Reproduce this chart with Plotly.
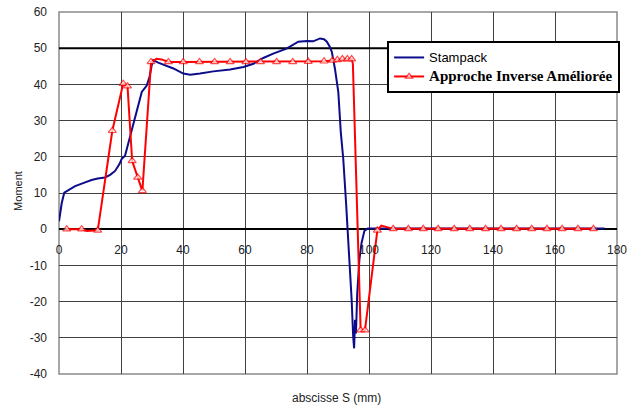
import plotly.graph_objects as go

# ---- data ----
stampack_x = [0, 0.5, 0.9, 1.7, 3.5, 5.2, 8, 10.5, 12.5, 14.8, 16.5, 18.1, 19.5, 20.2, 21.3, 22.3,
              23.4, 24.5, 25.6, 26.7, 28.3, 29.2, 29.9, 30.4, 32, 34.2, 36.9, 40.1, 42.3, 45.5,
              49.8, 55.2, 59.5, 62.7, 65.9, 69.1, 73.4, 77.2, 80, 82, 84.2, 85.5, 86.4, 87.3,
              88, 89, 90.1, 90.9, 91.7, 92.6, 93.3, 93.9, 94.4, 94.9, 95.2, 95.5, 95.8, 96.2,
              96.9, 97.6, 98.5, 99.6, 110, 130, 150, 170, 176]
stampack_y = [2.2, 5, 7.3, 10.1, 11, 11.9, 12.8, 13.6, 14, 14.3, 15, 16.1, 18, 19.4, 20.3, 23.5,
              27.7, 31, 34.2, 37.9, 39.7, 42, 45.3, 46.7, 46, 45.3, 44.4, 43, 42.7, 43,
              43.6, 44.1, 44.8, 45.7, 47.3, 48.5, 49.9, 51.8, 52, 51.9, 52.7, 52.5, 51.8, 50.5,
              49, 44.4, 37.9, 26.8, 19.4, 7.3, -1.9, -11.2, -19.5, -29.7, -32.9, -25, -28.8, -17.7,
              -8.4, -3.8, -0.5, 0.2, 0.2, 0.2, 0.2, 0.2, 0.2]

inverse_x = [2.5, 7.3, 9, 12.5, 17.2, 20.7, 22.1, 23.6, 25.4, 26.9, 29.7, 31.5, 33.1, 35.3,
             40.1, 45.3, 50.2, 55.2, 60.3, 65.0, 70.2, 75.4, 80.4, 85.5, 88.2, 89.8, 91.4,
             93.0, 94.4, 94.8, 97.3, 98.7, 102.7, 104, 107.8, 112.7, 117.5, 122.3, 127.5,
             132.5, 137.6, 142.6, 147.6, 152.5, 157.4, 162.3, 167.4, 172.4]
inverse_y = [0, 0, -0.5, -0.3, 27.2, 40.2, 39.5, 18.9, 14.3, 10.6, 46.2, 47.1, 46.9, 46.2,
             46.2, 46.2, 46.2, 46.2, 46.2, 46.2, 46.2, 46.2, 46.3, 46.4, 46.6, 46.8, 47.0,
             47.0, 47.0, 45.7, -27.9, -27.9, -0.3, 1.0, 0.1, 0.1, 0.1, 0.1, 0.1,
             0.1, 0.1, 0.1, 0.1, 0.1, 0.1, 0.1, 0.1, 0.1]
# which points of the improved inverse approach are sample points (drawn with a triangle)
inverse_sampled = [1, 1, 0, 1, 1, 1, 1, 1, 1, 1, 1, 0, 0, 1,
                   1, 1, 1, 1, 1, 1, 1, 1, 1, 1, 1, 1, 1,
                   1, 1, 0, 1, 1, 1, 0, 1, 1, 1, 1, 1,
                   1, 1, 1, 1, 1, 1, 1, 1, 1]

x_ticks = [0, 20, 40, 60, 80, 100, 120, 140, 160, 180]
y_ticks = [-40, -30, -20, -10, 0, 10, 20, 30, 40, 50, 60]

SANS = "Liberation Sans, Arial, sans-serif"

fig = go.Figure()
fig.add_trace(go.Scatter(
    x=stampack_x, y=stampack_y, mode="lines",
    name="<span style=\"font-size:13px\">Stampack</span>",
    line=dict(color="#0c0c8a", width=2),
))
fig.add_trace(go.Scatter(
    x=inverse_x, y=inverse_y, mode="lines+markers",
    name="<span style=\"font-family:Liberation Serif, Times New Roman, serif;font-size:15px\"><b>Approche Inverse Améliorée</b></span>",
    line=dict(color="#ff0000", width=2),
    marker=dict(symbol="triangle-up", color="white",
                size=[7 if s else 0 for s in inverse_sampled],
                line=dict(color="#ff0000", width=1.2)),
))

# thick black line at 50 (as in the reference)
fig.add_shape(type="line", xref="x", yref="y", x0=0, x1=180, y0=50, y1=50,
              line=dict(color="black", width=2), layer="between")
# plot frame
fig.add_shape(type="rect", xref="paper", yref="paper", x0=0, x1=1, y0=0, y1=1,
              line=dict(color="#8a8a8a", width=1.5), layer="between")

fig.update_layout(
    width=628, height=410,
    margin=dict(l=59, r=11, t=12, b=36, autoexpand=False),
    paper_bgcolor="white", plot_bgcolor="white",
    font=dict(family=SANS, size=12, color="#222"),
    showlegend=True,
    legend=dict(x=0.588, y=0.92, xanchor="left", yanchor="top",
                bgcolor="white", bordercolor="black", borderwidth=2,
                font=dict(family=SANS, size=11, color="black"),
                tracegroupgap=0, itemwidth=30),
    xaxis=dict(range=[0, 180], tickvals=x_ticks, ticktext=[str(v) for v in x_ticks],
               showgrid=True, gridcolor="#404040", gridwidth=1,
               zeroline=False, showline=False, automargin=False,
               anchor="free", position=0.4, ticks="", ticklabelstandoff=12,
               tickfont=dict(family=SANS, size=12, color="#222")),
    yaxis=dict(range=[-40, 60], tickvals=y_ticks, ticktext=[str(v) for v in y_ticks],
               showgrid=True, gridcolor="#404040", gridwidth=1,
               zeroline=True, zerolinecolor="black", zerolinewidth=2,
               showline=False, ticks="", ticklabelstandoff=11, automargin=False,
               tickfont=dict(family=SANS, size=12, color="#222")),
    annotations=[
        dict(text="Moment", xref="paper", yref="paper", x=-0.074, y=0.505,
             showarrow=False, textangle=-90, font=dict(family=SANS, size=11, color="#222"),
             xanchor="center", yanchor="middle"),
        dict(text="abscisse S (mm)", xref="paper", yref="paper", x=0.498, y=-0.066,
             showarrow=False, font=dict(family=SANS, size=12, color="#222"),
             xanchor="center", yanchor="middle"),
    ],
)

fig.write_html("out.html")
